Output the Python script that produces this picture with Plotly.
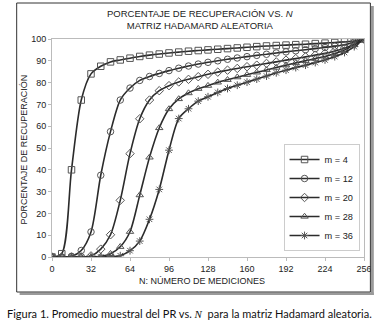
import plotly.graph_objects as go

N = list(range(0, 257, 8))

pr_m4 = [0, 1.5, 40, 72, 84, 87.5, 89.5, 90.4, 91.2, 92.0, 92.6, 93.1, 93.6, 94.0, 94.4, 94.7,
         95.0, 95.3, 95.6, 95.9, 96.2, 96.5, 96.8, 97.0, 97.2, 97.4, 97.6, 97.9, 98.1, 98.4,
         98.7, 99.1, 100]
pr_m12 = [0, 0, 0.3, 3, 11.5, 37.5, 57.5, 72, 77.5, 81, 82.8, 84.2, 85.5, 86.6, 87.6, 88.5,
          89.3, 90.0, 90.7, 91.3, 91.9, 92.5, 93.0, 93.6, 94.1, 94.6, 95.1, 95.6, 96.1, 96.7,
          97.4, 98.5, 100]
pr_m20 = [0, 0, 0, 0.1, 0.5, 3.6, 10.2, 26, 47.4, 63.4, 72, 76.3, 78.6, 80.3, 81.5, 82.7,
          83.8, 84.8, 85.7, 86.5, 87.3, 88.0, 88.8, 89.5, 90.3, 91.0, 91.8, 92.6, 93.4, 94.5,
          95.8, 97.6, 100]
pr_m28 = [0, 0, 0, 0, 0, 0.3, 1.5, 4.7, 11.6, 28.4, 45.7, 59.2, 67.9, 72.5, 75.2, 77.2,
          78.6, 80.1, 81.3, 82.5, 83.6, 84.7, 85.8, 86.9, 88.0, 89.0, 90.0, 91.0, 92.0, 93.3,
          95.0, 97.3, 100]
pr_m36 = [0, 0, 0, 0, 0, 0, 0.2, 0.6, 2.9, 7.3, 17.3, 31, 49, 63.5, 68, 71.5,
          73.5, 75.5, 77.3, 78.8, 80.2, 81.6, 83.0, 84.5, 85.7, 86.9, 88.0, 89.2, 90.4, 91.9,
          93.8, 96.5, 100]

series_names = ["m = 4", "m = 12", "m = 20", "m = 28", "m = 36"]
series_values = [pr_m4, pr_m12, pr_m20, pr_m28, pr_m36]
symbols = ["square-open", "circle-open", "diamond-open", "triangle-up-open", "asterisk-open"]
sizes = [6.5, 6.5, 6.5, 6.5, 6.5]

x_ticks = [0, 32, 64, 96, 128, 160, 192, 224, 256]
y_ticks = list(range(0, 101, 10))

title_text = "PORCENTAJE DE RECUPERACIÓN VS. <i>N</i><br>MATRIZ HADAMARD ALEATORIA"
x_title = "N: NÚMERO DE MEDICIONES"
y_title = "PORCENTAJE DE RECUPERACIÓN"
caption = ("Figura 1. Promedio muestral del PR vs. "
           "<span style='font-family:Liberation Serif'><i>N</i></span>"
           "  para la matriz Hadamard aleatoria.")

W, H = 384, 324
L, R, T, B = 52, 14, 39, 67
pw, ph = W - L - R, H - T - B


def px(x):
    return (x - L) / pw


def py(y):
    return (H - B - y) / ph


fig = go.Figure()
for i, (name, vals) in enumerate(zip(series_names, series_values)):
    fig.add_trace(go.Scatter(
        x=N, y=vals, name=name, mode="lines+markers",
        line=dict(color="#2b2b2b", width=1.6, shape="spline", smoothing=0.8),
        marker=dict(symbol=symbols[i], size=sizes[i], color="#555555",
                    line=dict(width=1, color="#555555")),
        legendgroup=name,
    ))

font_main = "Liberation Sans, Arial, sans-serif"

fig.update_layout(
    width=W, height=H,
    margin=dict(l=L, r=R, t=T, b=B),
    paper_bgcolor="white", plot_bgcolor="white",
    font=dict(family=font_main, size=9, color="#222222"),
    showlegend=True,
    legend=dict(x=px(288), y=py(144), xanchor="left", yanchor="top",
                bordercolor="#cccccc", borderwidth=1, bgcolor="white",
                font=dict(size=9.2, family=font_main),
                traceorder="grouped", tracegroupgap=0, itemwidth=30),
    xaxis=dict(range=[0, 256], tickvals=x_ticks, showgrid=False, zeroline=False,
               showline=True, mirror=True, linecolor="#bbbbbb", linewidth=1,
               ticks="outside", ticklen=3, tickcolor="#bbbbbb",
               tickfont=dict(size=9), fixedrange=True),
    yaxis=dict(range=[0, 100], tickvals=y_ticks, showgrid=False, zeroline=False,
               showline=True, mirror=True, linecolor="#bbbbbb", linewidth=1,
               ticks="outside", ticklen=3, tickcolor="#bbbbbb",
               tickfont=dict(size=9), fixedrange=True),
)

# titles as annotations
fig.add_annotation(text=title_text, x=px(203), y=py(20), xref="paper", yref="paper",
                   showarrow=False, font=dict(size=9.5, family=font_main, color="#222"),
                   xanchor="center", yanchor="middle")
fig.add_annotation(text=x_title, x=px(205), y=py(281), xref="paper", yref="paper",
                   showarrow=False, font=dict(size=9, family=font_main, color="#222"),
                   xanchor="center", yanchor="middle")
fig.add_annotation(text=y_title, x=px(23), y=py(150), xref="paper", yref="paper",
                   showarrow=False, textangle=-90,
                   font=dict(size=9, family=font_main, color="#222"),
                   xanchor="center", yanchor="middle")
fig.add_annotation(text=caption, x=px(192), y=py(313), xref="paper", yref="paper",
                   showarrow=False, font=dict(size=11, family="Lato, sans-serif", color="#111"),
                   xanchor="center", yanchor="middle")

# outer frame with shadow
fig.add_shape(type="rect", xref="paper", yref="paper",
              x0=px(377), x1=px(380), y0=py(295), y1=py(6),
              fillcolor="#9a9a9a", line=dict(width=0))
fig.add_shape(type="rect", xref="paper", yref="paper",
              x0=px(19), x1=px(380), y0=py(295), y1=py(292.5),
              fillcolor="#9a9a9a", line=dict(width=0))
fig.add_shape(type="rect", xref="paper", yref="paper",
              x0=px(16), x1=px(376.5), y0=py(292), y1=py(3),
              line=dict(color="#333333", width=1))

fig.write_html("out.html", config={"displayModeBar": False},
               post_script="document.body.style.margin='0';document.body.style.padding='0';")
